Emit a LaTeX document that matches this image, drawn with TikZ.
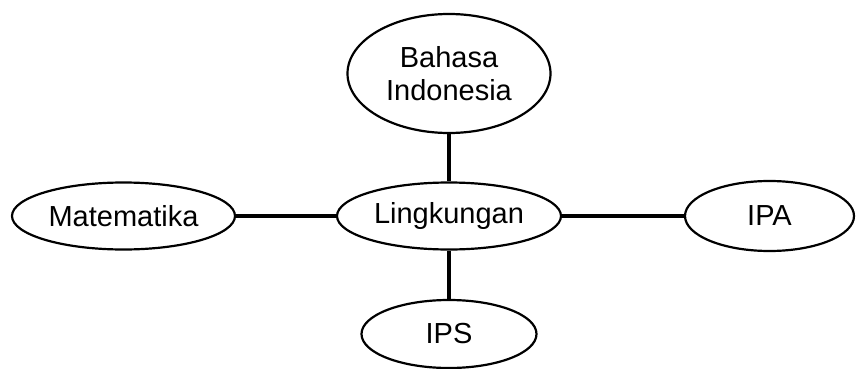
\documentclass[tikz,border=0pt]{standalone}
\usepackage{fontspec}
\setmainfont{Liberation Sans}
\usetikzlibrary{shapes.geometric}
\begin{document}
\begin{tikzpicture}[x=1pt,y=-1pt,
  topic/.style={ellipse,draw,line width=2.2pt,inner sep=0pt,font=\fontsize{29}{33}\selectfont,align=center},
  link/.style={line width=3.5pt}]
\useasboundingbox (0,0) rectangle (856,369);
\node[topic,minimum width=203pt,minimum height=119pt] (b) at (449,73.5) {Bahasa\\Indonesia};
\node[topic,minimum width=224pt,minimum height=67pt] (l) at (449,216) {Lingkungan};
\node[topic,minimum width=223pt,minimum height=67pt] (m) at (123.5,216) {Matematika};
\node[topic,minimum width=169pt,minimum height=70pt] (a) at (769.5,216) {IPA};
\node[topic,minimum width=175pt,minimum height=68pt] (s) at (449,334) {IPS};
\draw[link] (b) -- (l);
\draw[link] (l) -- (s);
\draw[link] (m) -- (l);
\draw[link] (l) -- (a);
\end{tikzpicture}
\end{document}
